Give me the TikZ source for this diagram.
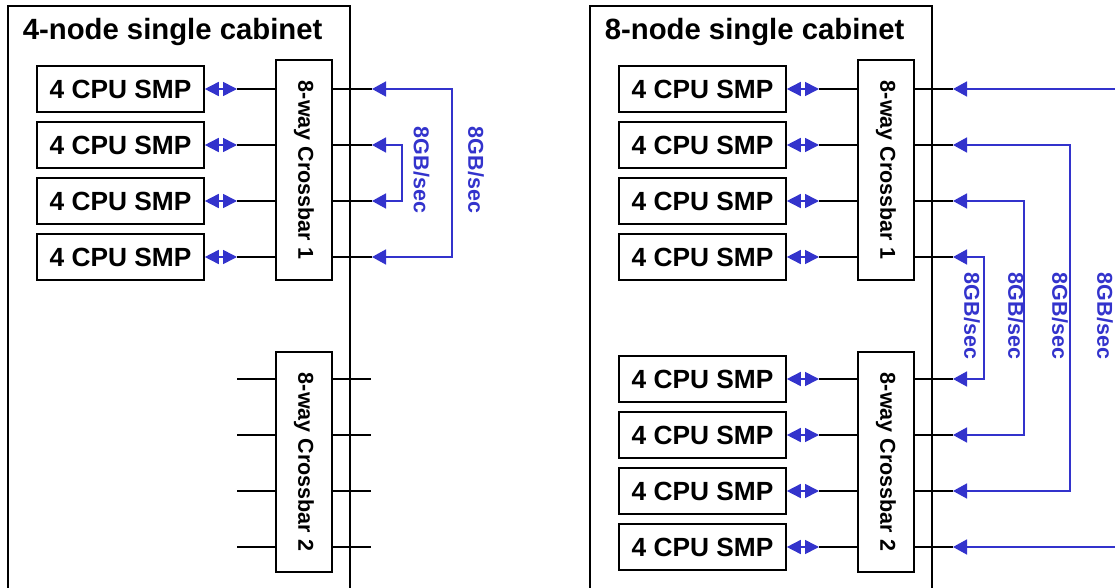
\documentclass[tikz,border=0pt]{standalone}
\usepackage{fontspec}
\setmainfont{Liberation Sans}
\usepackage{graphicx}
\usetikzlibrary{arrows.meta}
\definecolor{bw}{RGB}{51,51,204}
\begin{document}
\begin{tikzpicture}[x=1pt,y=-1pt,
 line width=1.6pt,
 smp/.style={draw, minimum width=167pt, minimum height=46pt, inner sep=0pt, font=\fontsize{26.3}{27}\selectfont\bfseries},
 xbar/.style={draw, minimum width=56pt, minimum height=220pt, inner sep=0pt, font=\fontsize{21.5}{22}\selectfont\bfseries},
 title/.style={anchor=base west, inner sep=0pt, font=\fontsize{29.3}{30}\selectfont\bfseries},
 rate/.style={rotate=-90, inner sep=0pt, text=bw, font=\fontsize{21.5}{22}\selectfont\bfseries},
 dbl/.style={draw=bw, {Triangle[length=14pt,width=14pt]}-{Triangle[length=14pt,width=14pt]}},
 link/.style={draw=bw, -{Triangle[length=14pt,width=15pt]}},
 loopl/.style={draw=bw, {Triangle[length=14pt,width=15pt]}-{Triangle[length=14pt,width=15pt]}},
 cab/.style={draw=black}]
\useasboundingbox (0,0) rectangle (1115,588);

% ---------- left cabinet ----------
\draw[cab] (8,588) -- (8,6) -- (350,6) -- (350,588);
\node[title] (Ltitle) at (22,40) {4-node single cabinet};
\node[xbar] (LX1) at (304,170) {\rotatebox{-90}{8-way Crossbar 1}};
\node[xbar] (LX2) at (304,462) {\rotatebox{-90}{8-way Crossbar 2}};
\foreach \i/\y in {1/89,2/145,3/201,4/257} {
  \node[smp] (L\i) at (120.5,\y) {4 CPU SMP};
  \coordinate (La\i) at (237,\y);
  \coordinate (Lt\i) at (372,\y);
  \draw[dbl] (L\i.east) -- (La\i);
  \draw (La\i) -- (La\i -| LX1.west);
  \draw (LX1.east |- Lt\i) -- (Lt\i);
}
\foreach \i/\y in {1/379,2/435,3/491,4/547} {
  \coordinate (Lb\i) at (237,\y);
  \coordinate (Lc\i) at (371,\y);
  \draw (Lb\i) -- (Lb\i -| LX2.west);
  \draw (LX2.east |- Lc\i) -- (Lc\i);
}
\draw[loopl] (Lt1) -- (452,89) -- (452,257) -- (Lt4);
\draw[loopl] (Lt2) -- (402,145) -- (402,201) -- (Lt3);
\node[rate] (Lr1) at (421.5,170) {8GB/sec};
\node[rate] (Lr2) at (476,170) {8GB/sec};

% ---------- right cabinet ----------
\draw[cab] (590,588) -- (590,6) -- (932,6) -- (932,588);
\node[title] (Rtitle) at (604,40) {8-node single cabinet};
\node[xbar] (RX1) at (886,170) {\rotatebox{-90}{8-way Crossbar 1}};
\node[xbar] (RX2) at (886,462) {\rotatebox{-90}{8-way Crossbar 2}};
\foreach \i/\y in {1/89,2/145,3/201,4/257,5/379,6/435,7/491,8/547} {
  \node[smp] (R\i) at (702.5,\y) {4 CPU SMP};
  \coordinate (Ra\i) at (819,\y);
  \coordinate (Rt\i) at (953,\y);
  \draw[dbl] (R\i.east) -- (Ra\i);
}
\foreach \i in {1,...,4} {
  \draw (Ra\i) -- (Ra\i -| RX1.west);
  \draw (RX1.east |- Rt\i) -- (Rt\i);
}
\foreach \i in {5,...,8} {
  \draw (Ra\i) -- (Ra\i -| RX2.west);
  \draw (RX2.east |- Rt\i) -- (Rt\i);
}
\coordinate (Rin1) at (1115,89);
\coordinate (Rin8) at (1115,547);
\draw[link] (Rin1) -- (Rt1);
\draw[link] (Rin8) -- (Rt8);
\draw[loopl] (Rt2) -- (1070,145) -- (1070,491) -- (Rt7);
\draw[loopl] (Rt3) -- (1024,201) -- (1024,435) -- (Rt6);
\draw[loopl] (Rt4) -- (984,257) -- (984,379) -- (Rt5);
\node[rate] (Rr1) at (972,316) {8GB/sec};
\node[rate] (Rr2) at (1016,316) {8GB/sec};
\node[rate] (Rr3) at (1060,316) {8GB/sec};
\node[rate] (Rr4) at (1105,316) {8GB/sec};
\end{tikzpicture}
\end{document}
